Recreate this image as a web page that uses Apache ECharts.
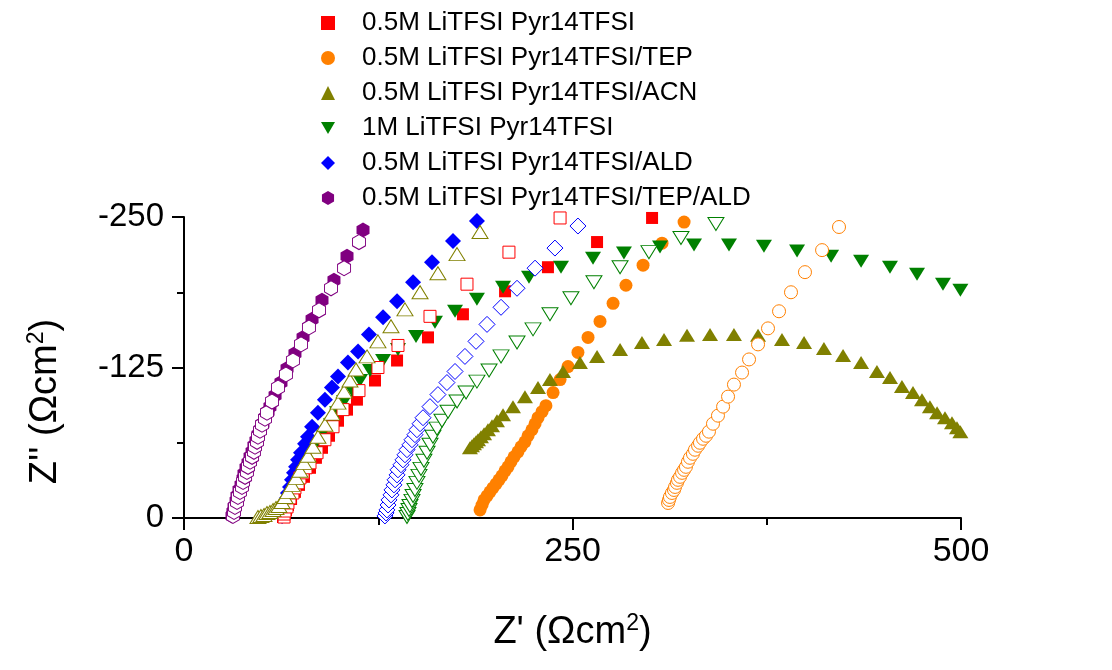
<!DOCTYPE html>
<html>
<head>
<meta charset="utf-8">
<script src="https://cdn.jsdelivr.net/npm/echarts@6/dist/echarts.min.js"></script>
<style>
html,body{margin:0;padding:0;background:#fff;}
#chart{width:1112px;height:670px;}
</style>
</head>
<body>
<div id="chart"></div>
<script>
// ---- Data (Z' [Ohm cm2], Z'' [Ohm cm2]) ----
const seriesNames = [
  "0.5M LiTFSI Pyr14TFSI",
  "0.5M LiTFSI Pyr14TFSI/TEP",
  "0.5M LiTFSI Pyr14TFSI/ACN",
  "1M LiTFSI Pyr14TFSI",
  "0.5M LiTFSI Pyr14TFSI/ALD",
  "0.5M LiTFSI Pyr14TFSI/TEP/ALD"
];
const xTicks = [0, 250, 500];
const yTicks = [-250, -125, 0];

const redFilled = [[63.7,-0.8],[64.4,-3.3],[65.6,-6.7],[66.9,-10.8],[68.9,-15.8],[71.4,-21.7],[74.0,-27.5],[77.2,-34.2],[81.1,-41.7],[84.9,-50.0],[88.8,-58.3],[93.3,-68.3],[99.1,-80.8],[104.9,-90.0],[111.3,-98.3],[122.9,-114.2],[137.1,-130.8],[157.0,-150.0],[179.5,-169.2],[206.6,-188.3],[234.2,-208.3],[265.8,-229.2],[301.2,-249.2]];
const redHollow = [[64.4,-0.8],[64.4,-3.3],[65.0,-5.8],[66.3,-9.2],[66.9,-12.5],[68.2,-16.7],[70.1,-20.8],[71.4,-25.0],[73.4,-29.2],[74.6,-33.3],[76.6,-37.5],[78.5,-41.7],[81.1,-45.8],[85.6,-54.2],[90.7,-65.0],[95.9,-75.8],[102.3,-90.0],[112.6,-105.8],[124.8,-125.0],[137.7,-143.3],[158.3,-167.5],[182.1,-194.2],[209.1,-220.8],[242.0,-249.2]];

const orangeFilled = [[190.5,-6.7],[191.8,-10.8],[193.1,-15.0],[195.0,-18.3],[196.9,-21.7],[198.8,-25.0],[200.8,-28.3],[202.7,-31.7],[204.6,-35.0],[206.6,-39.2],[208.5,-42.5],[210.4,-46.7],[212.4,-50.8],[214.9,-55.0],[216.9,-59.2],[219.4,-63.3],[221.4,-68.3],[223.9,-73.3],[225.9,-78.3],[227.8,-83.3],[230.4,-88.3],[232.9,-93.3],[237.5,-104.2],[242.0,-115.0],[247.1,-125.8],[253.5,-137.5],[260.0,-150.0],[267.7,-163.3],[276.1,-178.3],[284.4,-193.3],[295.4,-210.0],[307.6,-228.3],[321.8,-245.8]];
const orangeHollow = [[311.5,-12.5],[312.1,-15.0],[312.7,-17.5],[314.0,-20.8],[315.3,-23.3],[316.0,-25.8],[317.2,-29.2],[317.9,-31.7],[319.2,-34.2],[320.5,-37.5],[321.8,-40.0],[323.0,-42.5],[324.3,-46.7],[325.6,-50.0],[327.5,-53.3],[328.8,-56.7],[330.8,-60.0],[332.0,-62.5],[334.0,-65.8],[335.9,-68.3],[337.8,-71.7],[340.4,-78.3],[343.6,-85.0],[346.9,-92.5],[350.1,-100.8],[353.9,-110.8],[359.1,-120.8],[363.6,-131.7],[369.4,-144.2],[375.8,-157.5],[382.9,-171.7],[390.6,-187.5],[399.6,-204.2],[410.6,-222.5],[421.5,-241.7]];

const oliveFilled = [[184.0,-58.3],[185.3,-60.0],[186.6,-61.7],[187.9,-63.3],[189.2,-65.0],[191.1,-67.5],[193.1,-70.0],[195.6,-73.3],[198.2,-76.7],[201.4,-80.8],[205.3,-85.8],[211.7,-92.5],[219.4,-100.8],[227.8,-108.3],[235.5,-115.0],[243.9,-121.7],[254.8,-129.2],[265.8,-134.2],[280.6,-140.0],[294.7,-145.8],[308.9,-148.3],[323.7,-151.7],[338.5,-152.5],[353.9,-152.5],[369.4,-151.7],[384.8,-148.3],[399.0,-145.8],[411.8,-140.8],[424.1,-135.0],[435.7,-129.2],[445.9,-121.7],[454.3,-116.7],[462.0,-109.2],[469.1,-104.2],[474.9,-98.3],[480.0,-92.5],[484.6,-87.5],[489.7,-83.3],[494.2,-79.2],[497.4,-75.0],[499.6,-71.7]];
const oliveHollow = [[47.6,-0.8],[49.5,-1.7],[51.5,-2.5],[53.4,-4.2],[55.3,-5.0],[57.3,-6.7],[59.2,-8.3],[61.1,-10.0],[63.1,-13.3],[65.0,-17.5],[66.9,-21.7],[69.5,-27.5],[72.1,-33.3],[74.6,-39.2],[77.2,-45.8],[79.8,-51.7],[83.0,-59.2],[86.2,-67.5],[90.7,-77.5],[95.2,-86.7],[99.1,-95.8],[103.0,-105.0],[106.8,-114.2],[110.7,-123.3],[117.8,-134.2],[124.8,-146.7],[133.2,-159.2],[142.2,-173.3],[151.9,-187.5],[163.4,-203.3],[175.7,-219.2],[190.5,-237.5],[207.9,-251.5]];

const greenFilled = [[63.7,-1.7],[65.0,-5.8],[66.9,-10.8],[68.9,-16.7],[71.4,-23.3],[74.6,-31.7],[77.9,-40.0],[81.7,-48.3],[85.6,-57.5],[90.1,-67.5],[94.6,-77.5],[98.5,-87.5],[103.0,-96.7],[108.1,-105.8],[113.3,-114.2],[119.7,-122.5],[128.1,-130.8],[137.7,-140.0],[149.3,-150.8],[161.5,-162.5],[174.4,-171.7],[188.5,-181.7],[205.3,-191.7],[222.0,-200.0],[242.6,-208.3],[263.2,-215.8],[283.1,-220.0],[306.3,-225.0],[328.2,-226.7],[350.7,-226.7],[373.2,-225.8],[394.5,-221.7],[416.4,-217.5],[435.7,-213.3],[454.3,-208.3],[471.7,-202.5],[488.4,-194.2],[499.6,-189.2]];
const greenHollow = [[143.5,-0.8],[144.1,-3.3],[144.8,-6.7],[145.4,-10.0],[146.7,-14.2],[147.4,-18.3],[148.6,-23.3],[149.9,-29.2],[151.2,-35.0],[152.5,-40.8],[154.4,-47.5],[156.4,-54.2],[158.3,-60.8],[160.2,-67.5],[162.8,-74.2],[166.0,-80.8],[169.9,-88.3],[175.7,-96.7],[181.5,-104.2],[188.5,-113.3],[196.3,-122.5],[204.0,-134.2],[214.3,-145.8],[224.6,-156.7],[235.5,-169.2],[249.0,-182.5],[263.8,-195.8],[280.6,-208.3],[299.2,-220.8],[319.8,-232.5],[342.3,-244.2],[366.2,-255.0]];

const blueFilled = [[63.1,-1.7],[63.7,-5.0],[64.4,-8.3],[65.0,-12.5],[66.3,-16.7],[66.9,-20.8],[68.2,-25.8],[69.5,-31.7],[70.8,-37.5],[72.1,-42.5],[73.4,-48.3],[75.3,-54.2],[77.9,-61.7],[79.8,-67.5],[82.4,-75.8],[86.2,-87.5],[90.7,-98.3],[95.2,-108.3],[99.1,-117.5],[105.5,-129.2],[112.0,-138.3],[119.0,-152.5],[128.1,-166.7],[137.1,-180.0],[147.4,-195.8],[159.6,-212.5],[173.1,-230.0],[188.5,-246.7]];
const blueHollow = [[129.3,-1.7],[130.0,-4.2],[130.6,-6.7],[131.3,-10.8],[131.9,-15.0],[133.2,-19.2],[133.8,-23.3],[135.1,-27.5],[135.8,-31.7],[137.1,-35.8],[137.7,-40.0],[139.6,-44.2],[140.9,-48.3],[142.2,-52.5],[143.5,-56.7],[145.4,-60.8],[146.7,-65.0],[148.6,-69.2],[149.9,-73.3],[151.9,-78.3],[153.8,-83.3],[158.3,-92.5],[163.4,-102.5],[169.2,-112.5],[174.4,-121.7],[180.8,-134.2],[187.9,-146.7],[195.0,-160.8],[204.0,-175.0],[214.3,-190.8],[225.9,-207.5],[238.7,-224.2],[253.5,-242.5]];

const purpleFilled = [[30.9,-1.7],[31.5,-5.0],[32.2,-9.2],[33.5,-14.2],[34.1,-18.3],[35.4,-23.3],[36.7,-27.5],[38.0,-32.5],[38.6,-36.7],[39.9,-41.7],[41.2,-45.8],[42.5,-50.8],[43.8,-55.0],[45.0,-60.0],[46.3,-64.2],[47.6,-69.2],[48.9,-73.3],[50.8,-78.3],[52.1,-83.3],[54.1,-88.3],[55.3,-92.5],[58.6,-101.7],[62.4,-112.5],[66.3,-124.2],[71.4,-136.7],[76.6,-150.0],[82.4,-165.0],[88.8,-180.8],[96.5,-197.5],[104.9,-217.5],[115.2,-239.2]];
const purpleHollow = [[31.5,-1.7],[32.2,-5.0],[32.8,-9.2],[34.1,-13.3],[34.7,-17.5],[36.0,-21.7],[37.3,-25.8],[38.0,-30.0],[39.3,-34.2],[40.5,-38.3],[41.2,-42.5],[42.5,-46.7],[43.8,-50.8],[45.0,-55.0],[45.7,-59.2],[47.0,-63.3],[47.6,-67.5],[48.9,-72.5],[50.2,-77.5],[52.1,-82.5],[53.4,-87.5],[56.6,-96.7],[60.5,-108.3],[65.6,-119.2],[70.1,-130.8],[75.3,-144.2],[80.4,-158.3],[86.9,-172.5],[94.6,-190.8],[103.0,-207.5],[112.6,-229.2],[124.2,-251.7]];

// ---- Styling ----
const colors = ['#FF0000', '#FF8000', '#808000', '#008000', '#0000FF', '#800080'];
const DOWN_TRI = 'path://M0,0 L10,0 L5,8.66 Z';
const HEX = 'path://M0,-10 L8.66,-5 L8.66,5 L0,10 L-8.66,5 L-8.66,-5 Z';
const symbols = ['rect', 'circle', 'triangle', DOWN_TRI, 'diamond', HEX];
const sizes = [[12,12],[13,13],[16,13],[16,13],[16,16],[13,15]];
const filledData = [redFilled, orangeFilled, oliveFilled, greenFilled, blueFilled, purpleFilled];
const hollowData = [redHollow, orangeHollow, oliveHollow, greenHollow, blueHollow, purpleHollow];

const FONT = '"Liberation Sans", Arial, sans-serif';
const series = [];
for (let i = 0; i < 6; i++) {
  series.push({
    name: seriesNames[i], type: 'scatter', data: filledData[i],
    symbol: symbols[i], symbolSize: sizes[i], symbolKeepAspect: false,
    itemStyle: { color: colors[i], opacity: 1 }, z: 2
  });
}
for (let i = 0; i < 6; i++) {
  series.push({
    name: seriesNames[i] + ' (open)', type: 'scatter', data: hollowData[i],
    symbol: symbols[i], symbolSize: sizes[i],
    itemStyle: { color: '#ffffff', borderColor: colors[i], borderWidth: 1, opacity: 1 }, z: 3
  });
}

const chart = echarts.init(document.getElementById('chart'), null, { renderer: 'canvas' });
chart.setOption({
  animation: false,
  backgroundColor: '#ffffff',
  grid: { left: 184, right: 151, top: 217, bottom: 152 },
  legend: {
    data: seriesNames, orient: 'vertical', left: 316, top: 5,
    itemWidth: 14, itemHeight: 14, itemGap: 9,
    textStyle: { fontFamily: FONT, fontSize: 26, color: '#000', lineHeight: 24, padding: [0,0,0,22] }
  },
  xAxis: {
    type: 'value', min: 0, max: 500, interval: 250,
    name: "Z' (Ωcm{sup|2})", nameLocation: 'middle', nameGap: 94,
    nameTextStyle: { fontFamily: FONT, fontSize: 38, color: '#000',
      rich: { sup: { fontFamily: FONT, fontSize: 23, verticalAlign: 'top', padding: [0,0,18,0] } } },
    axisLine: { onZero: false, lineStyle: { color: '#000', width: 2 } },
    axisTick: { show: true, inside: false, length: 12, lineStyle: { color: '#000', width: 2 } },
    minorTick: { show: true, splitNumber: 2, length: 7, lineStyle: { color: '#000', width: 2 } },
    axisLabel: { fontFamily: FONT, fontSize: 34, color: '#000', margin: 17 },
    splitLine: { show: false }
  },
  yAxis: {
    type: 'value', min: -250, max: 0, interval: 125, inverse: true,
    name: "Z'' (Ωcm{sup|2})", nameLocation: 'middle', nameGap: 118, nameRotate: 90,
    nameTextStyle: { fontFamily: FONT, fontSize: 38, color: '#000', padding: [0,68,0,0],
      rich: { sup: { fontFamily: FONT, fontSize: 23, padding: [0,0,18,0] } } },
    axisLine: { onZero: false, lineStyle: { color: '#000', width: 2 } },
    axisTick: { show: true, inside: false, length: 12, lineStyle: { color: '#000', width: 2 } },
    minorTick: { show: true, splitNumber: 2, length: 7, lineStyle: { color: '#000', width: 2 } },
    axisLabel: { fontFamily: FONT, fontSize: 33, color: '#000', margin: 20 },
    splitLine: { show: false }
  },
  series: series
});
</script>
</body>
</html>
